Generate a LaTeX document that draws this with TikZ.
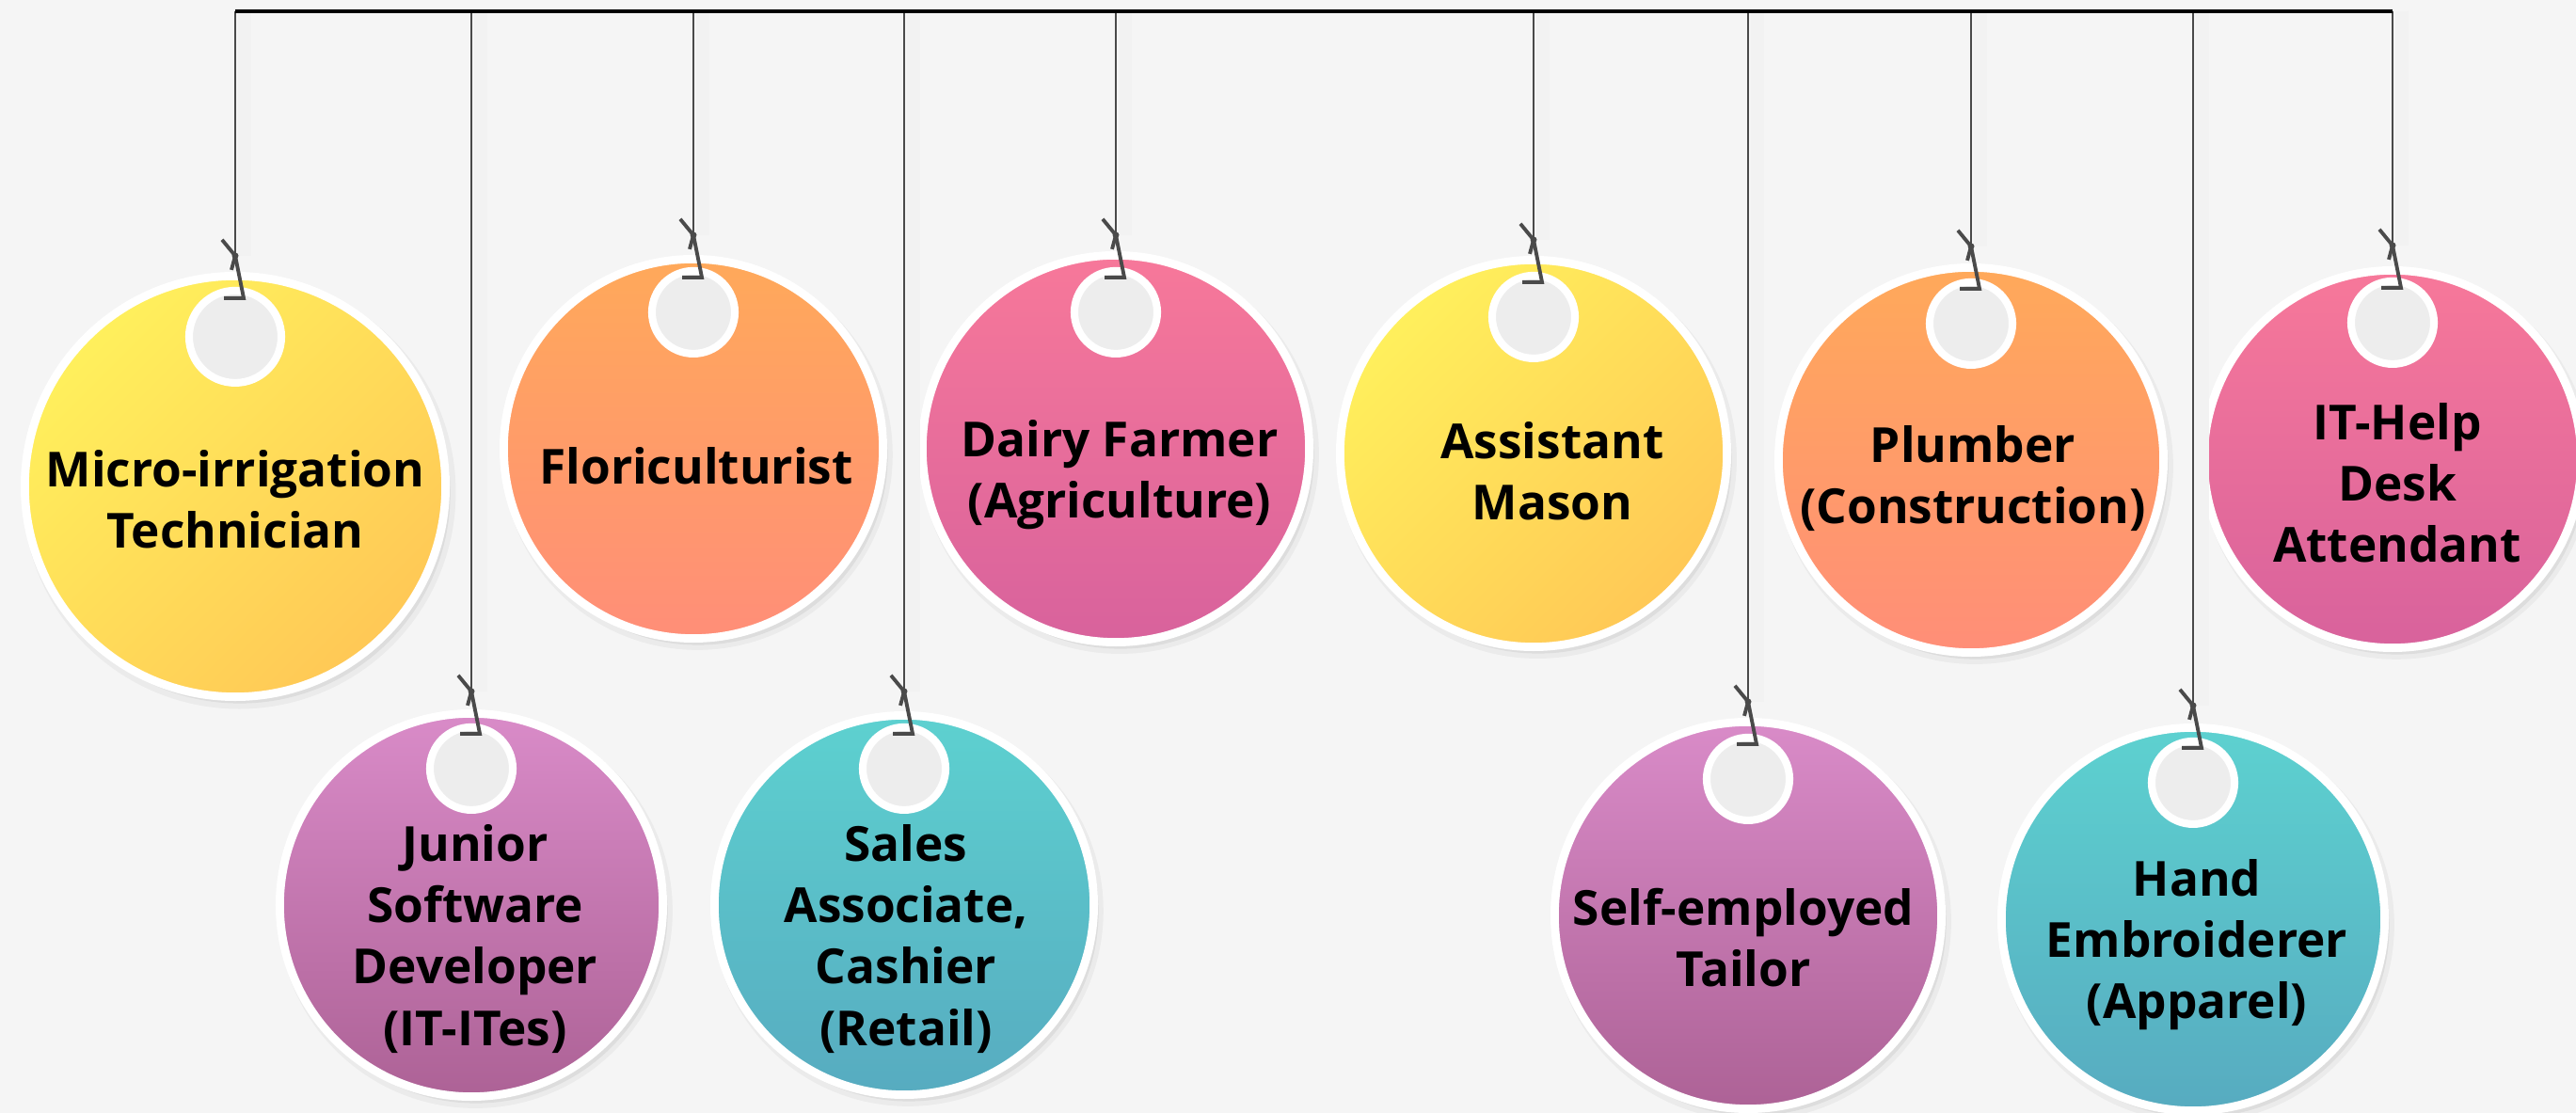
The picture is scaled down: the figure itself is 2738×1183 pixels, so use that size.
\documentclass[tikz,border=0pt]{standalone}
\usepackage{fontspec}
\setmainfont{Open Sans}
\usetikzlibrary{calc}
\usetikzlibrary{shadows}

\definecolor{bgcol}{HTML}{F5F5F5}
\definecolor{holecol}{HTML}{EDEDED}
\definecolor{cordcol}{HTML}{4A4A4A}
\definecolor{yelA}{HTML}{FFF05C}
\definecolor{yelB}{HTML}{FFC856}
\definecolor{oraA}{HTML}{FFA95A}
\definecolor{oraB}{HTML}{FF8E78}
\definecolor{pinA}{HTML}{F7789A}
\definecolor{pinB}{HTML}{D8629C}
\definecolor{purA}{HTML}{D98BC8}
\definecolor{purB}{HTML}{AD6296}
\definecolor{teaA}{HTML}{5DD1D0}
\definecolor{teaB}{HTML}{57ABC0}

\tikzset{
  tagknot/.pic={
    \draw[cordcol, line width=1.1pt] (-14,-17) -- (0,0) -- (9,45) -- (-12,45);
    \draw[cordcol, line width=1.1pt] (0,0) -- (-4,15);
    \fill[cordcol] (0,0) circle (3.5);
  }
}

\begin{document}
\begin{tikzpicture}[x=0.01cm, y=-0.01cm,
    tagdisc/.style={circle, draw=white, line width=2.5pt, inner sep=0pt, minimum size=#1,
      drop shadow={shadow xshift=0.04cm, shadow yshift=-0.06cm, shadow scale=1.03, fill=black, opacity=0.04},
      drop shadow={shadow xshift=0.05cm, shadow yshift=-0.07cm, fill=black, opacity=0.06}},
    taghole/.style={circle, draw=white, fill=holecol, line width=2.3pt, inner sep=0pt, minimum size=#1},
    taghole/.default=0.88cm,
    yellowtag/.style={top color=yelA, bottom color=yelB, shading angle=45},
    orangetag/.style={top color=oraA, bottom color=oraB},
    pinktag/.style={top color=pinA, bottom color=pinB},
    purpletag/.style={top color=purA, bottom color=purB},
    tealtag/.style={top color=teaA, bottom color=teaB},
    cord/.style={cordcol, line width=0.8pt, preaction={draw=black!5, line width=4pt, transform canvas={xshift=0.1cm}}},
    rail/.style={black, line width=1.2pt},
    tagtext/.style={font=\bfseries\fontsize{14.6pt}{18.5pt}\selectfont, align=center, text=black, inner sep=0pt}]

  \fill[bgcol] (0,0) rectangle (2738,1183);
  \useasboundingbox (0,0) rectangle (2738,1183);

  \coordinate (bl) at (250,12);
  \coordinate (br) at (2543,12);

  % upper row
  \node[tagdisc=4.47cm, yellowtag] (t1) at (250,517) {};
  \node[tagdisc=4.03cm, orangetag] (t2) at (737,477) {};
  \node[tagdisc=4.11cm, pinktag] (t3) at (1186,477) {};
  \node[tagdisc=4.11cm, yellowtag] (t4) at (1630,482) {};
  \node[tagdisc=4.09cm, orangetag] (t5) at (2095,489) {};
  \node[tagdisc=4.01cm, pinktag] (t6) at (2543,488) {};

  % lower row
  \node[tagdisc=4.07cm, purpletag] (t7) at (501,962) {};
  \node[tagdisc=4.03cm, tealtag] (t8) at (961,962) {};
  \node[tagdisc=4.11cm, purpletag] (t9) at (1858,973) {};
  \node[tagdisc=4.07cm, tealtag] (t10) at (2331,977) {};

  \node[taghole=0.98cm] (h1) at ([yshift=1.59cm]t1.center) {};
  \node[taghole] (h2) at ([yshift=1.45cm]t2.center) {};
  \node[taghole] (h3) at ([yshift=1.45cm]t3.center) {};
  \node[taghole] (h4) at ([yshift=1.45cm]t4.center) {};
  \node[taghole] (h5) at ([yshift=1.45cm]t5.center) {};
  \node[taghole] (h6) at ([yshift=1.45cm]t6.center) {};
  \node[taghole] (h7) at ([yshift=1.45cm]t7.center) {};
  \node[taghole] (h8) at ([yshift=1.45cm]t8.center) {};
  \node[taghole] (h9) at ([yshift=1.45cm]t9.center) {};
  \node[taghole] (h10) at ([yshift=1.45cm]t10.center) {};

  \coordinate (k1) at ([yshift=0.86cm]h1.center);
  \coordinate (k2) at ([yshift=0.82cm]h2.center);
  \coordinate (k3) at ([yshift=0.82cm]h3.center);
  \coordinate (k4) at ([yshift=0.82cm]h4.center);
  \coordinate (k5) at ([yshift=0.82cm]h5.center);
  \coordinate (k6) at ([yshift=0.82cm]h6.center);
  \coordinate (k7) at ([yshift=0.82cm]h7.center);
  \coordinate (k8) at ([yshift=0.82cm]h8.center);
  \coordinate (k9) at ([yshift=0.82cm]h9.center);
  \coordinate (k10) at ([yshift=0.82cm]h10.center);

  % strings
  \draw[cord] (k1 |- bl) -- (k1);
  \draw[cord] (k2 |- bl) -- (k2);
  \draw[cord] (k3 |- bl) -- (k3);
  \draw[cord] (k4 |- bl) -- (k4);
  \draw[cord] (k5 |- bl) -- (k5);
  \draw[cord] (k6 |- bl) -- (k6);
  \draw[cord] (k7 |- bl) -- (k7);
  \draw[cord] (k8 |- bl) -- (k8);
  \draw[cord] (k9 |- bl) -- (k9);
  \draw[cord] (k10 |- bl) -- (k10);
  \draw[rail] (bl) -- (br);

  \pic at (k1) {tagknot};
  \pic at (k2) {tagknot};
  \pic at (k3) {tagknot};
  \pic at (k4) {tagknot};
  \pic at (k5) {tagknot};
  \pic at (k6) {tagknot};
  \pic at (k7) {tagknot};
  \pic at (k8) {tagknot};
  \pic at (k9) {tagknot};
  \pic at (k10) {tagknot};

  % labels
  \node[tagtext] (l1) at (250,531) {Micro-irrigation\\Technician};
  \node[tagtext] (l2) at (740,495) {Floriculturist};
  \node[tagtext] (l3) at (1190,505) {Dairy Farmer\\(Agriculture)};
  \node[tagtext] (l4) at (1650,501) {Assistant\\Mason};
  \node[tagtext] (l5) at (2097,509) {Plumber\\(Construction)};
  \node[tagtext] (l6) at (2548,513) {IT-Help\\Desk\\Attendant};
  \node[tagtext] (l7) at (505,998) {Junior\\Software\\Developer\\(IT-ITes)};
  \node[tagtext] (l8) at (963,998) {Sales\\Associate,\\Cashier\\(Retail)};
  \node[tagtext] (l9) at (1853,997) {Self-employed\\Tailor};
  \node[tagtext] (l10) at (2335,1004) {Hand\\Embroiderer\\(Apparel)};
\end{tikzpicture}
\end{document}
